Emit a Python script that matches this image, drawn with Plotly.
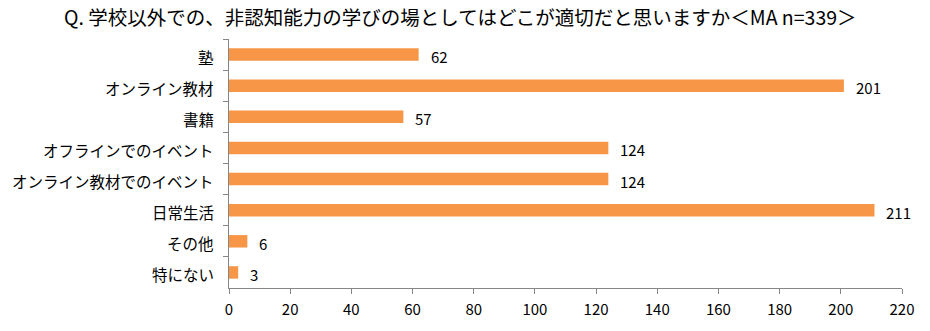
import plotly.graph_objects as go

categories = ["塾", "オンライン教材", "書籍", "オフラインでのイベント", "オンライン教材でのイベント", "日常生活", "その他", "特にない"]
values = [62, 201, 57, 124, 124, 211, 6, 3]
x_ticks = [0, 20, 40, 60, 80, 100, 120, 140, 160, 180, 200, 220]
title = "Q. 学校以外での、非認知能力の学びの場としてはどこが適切だと思いますか＜MA n=339＞"

FONT = "Noto Sans CJK JP"
fig = go.Figure(go.Bar(
    x=values, y=categories, orientation="h",
    marker=dict(color="#F79646", line=dict(width=0)),
    width=0.4,
))
for c, v in zip(categories, values):
    fig.add_annotation(x=v, y=c, text=str(v), showarrow=False, xanchor="left",
                       xshift=10, yshift=-2, font=dict(size=15, color="#000", family=FONT))
    fig.add_annotation(x=0, xref="paper", y=c, text=c, showarrow=False, xanchor="right",
                       xshift=-13, yshift=-2, font=dict(size=15.5, color="#000", family=FONT))

fig.update_layout(
    width=930, height=331,
    margin=dict(l=229, r=28, t=39, b=34),
    paper_bgcolor="white", plot_bgcolor="white",
    showlegend=False,
    title=dict(text=title, x=0.495, xanchor="center", y=0.945, yanchor="middle",
               font=dict(size=19.5, color="#000", family=FONT)),
    font=dict(family=FONT, size=15, color="#000"),
)
fig.update_xaxes(range=[0, 220], tickvals=x_ticks, showgrid=False, zeroline=False,
                 showline=True, linecolor="#868686", linewidth=1,
                 ticks="outside", ticklen=5, tickcolor="#868686",
                 ticklabelstandoff=3,
                 tickfont=dict(size=15, family=FONT))
fig.update_yaxes(autorange="reversed", showgrid=False, zeroline=False,
                 showline=True, linecolor="#868686", linewidth=1,
                 ticks="outside", ticklen=5, tickcolor="#868686", tickson="boundaries",
                 showticklabels=False)
fig.write_html("out.html")
